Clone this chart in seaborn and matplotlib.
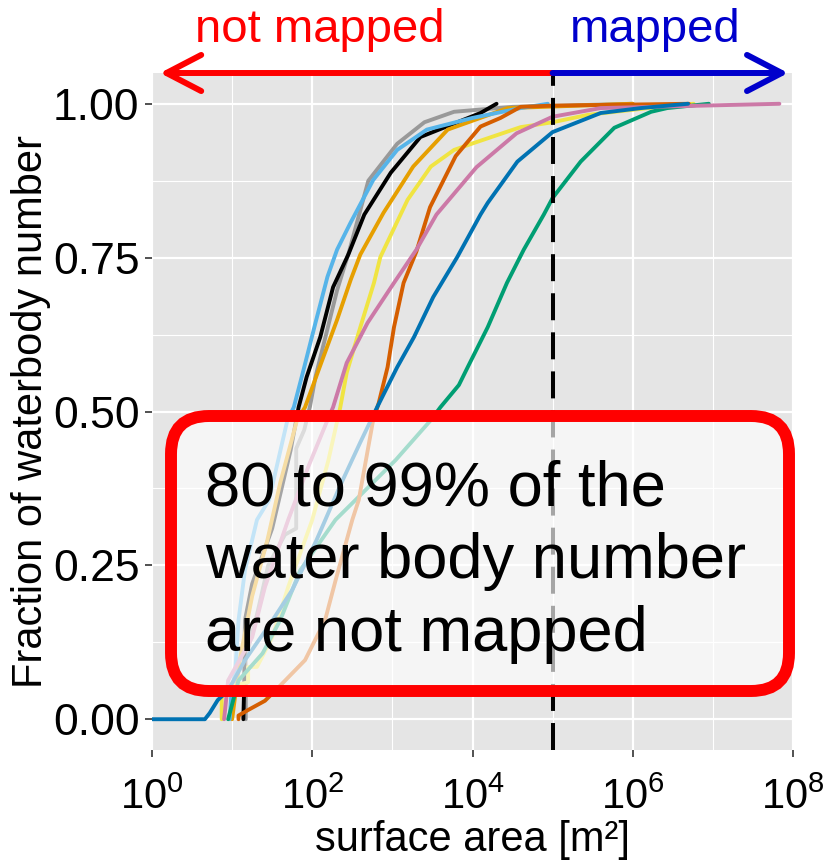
import numpy as np
import pandas as pd
import matplotlib
matplotlib.use("Agg")
import matplotlib.pyplot as plt
import seaborn as sns
from matplotlib.patches import FancyBboxPatch
from matplotlib.transforms import IdentityTransform
from matplotlib.ticker import FixedLocator, FuncFormatter, NullFormatter

# Cumulative distribution of water body surface area per dataset:
# log10(surface area [m²]) and the fraction of water bodies below it.
gray_log_area = [1.17, 1.17, 1.31, 1.45, 1.66, 1.80, 1.80, 1.90, 1.97, 2.04, 2.31, 2.46, 2.70, 3.06, 3.40, 3.77, 4.50, 6.00]
gray_frac = [0.0, 0.10, 0.17, 0.25, 0.30, 0.31, 0.44, 0.47, 0.507, 0.556, 0.697, 0.76, 0.875, 0.935, 0.97, 0.987, 0.995, 1.0]

black_log_area = [1.14, 1.15, 1.16, 1.25, 1.50, 1.73, 1.83, 1.93, 2.10, 2.26, 2.45, 2.65, 2.98, 3.35, 4.10, 4.30]
black_frac = [0.0, 0.05, 0.161, 0.22, 0.31, 0.437, 0.507, 0.556, 0.621, 0.702, 0.755, 0.82, 0.888, 0.946, 0.985, 1.0]

orange_log_area = [1.00, 1.10, 1.25, 1.44, 1.60, 1.81, 1.91, 2.14, 2.31, 2.48, 2.60, 2.89, 3.26, 3.69, 4.44, 6.00]
orange_frac = [0.0, 0.10, 0.20, 0.291, 0.384, 0.486, 0.507, 0.589, 0.649, 0.714, 0.755, 0.823, 0.898, 0.958, 0.993, 1.0]

skyblue_log_area = [0.97, 0.99, 1.04, 1.08, 1.16, 1.31, 1.46, 1.69, 1.77, 1.89, 2.04, 2.19, 2.31, 2.475, 2.76, 3.06, 3.43, 4.00, 4.60, 4.94]
skyblue_frac = [0.0, 0.04, 0.08, 0.161, 0.242, 0.324, 0.356, 0.486, 0.507, 0.567, 0.644, 0.719, 0.763, 0.806, 0.876, 0.925, 0.958, 0.977, 0.993, 1.0]

yellow_log_area = [0.87, 0.87, 1.20, 1.20, 1.31, 1.50, 1.70, 2.00, 2.20, 2.35, 2.43, 2.60, 2.77, 2.85, 3.19, 3.48, 3.77, 4.01, 4.60, 5.00, 5.44, 6.19, 6.76]
yellow_frac = [0.0, 0.05, 0.06, 0.085, 0.085, 0.133, 0.215, 0.324, 0.42, 0.507, 0.563, 0.637, 0.709, 0.751, 0.844, 0.898, 0.925, 0.936, 0.962, 0.97, 0.982, 0.993, 1.0]

green_log_area = [0.95, 1.08, 1.38, 1.60, 1.85, 2.29, 2.60, 3.04, 3.48, 3.60, 3.83, 3.94, 4.19, 4.43, 4.64, 4.89, 5.00, 5.35, 5.77, 6.23, 6.43, 6.95]
green_frac = [0.0, 0.063, 0.107, 0.161, 0.242, 0.324, 0.364, 0.421, 0.486, 0.507, 0.543, 0.572, 0.637, 0.709, 0.763, 0.82, 0.847, 0.906, 0.961, 0.987, 0.993, 1.0]

vermillion_log_area = [1.08, 1.08, 1.20, 1.41, 1.58, 1.91, 2.16, 2.30, 2.50, 2.58, 2.76, 2.83, 2.94, 3.02, 3.14, 3.30, 3.47, 3.79, 4.10, 4.35, 4.60, 5.00, 6.70]
vermillion_frac = [0.0, 0.006, 0.015, 0.03, 0.052, 0.096, 0.161, 0.23, 0.324, 0.356, 0.486, 0.514, 0.572, 0.637, 0.709, 0.76, 0.832, 0.915, 0.963, 0.977, 0.995, 0.997, 1.0]

pink_log_area = [0.90, 0.95, 1.25, 1.41, 1.70, 1.95, 2.19, 2.26, 2.43, 2.69, 3.02, 3.30, 3.55, 4.05, 4.55, 5.00, 5.60, 7.83]
pink_frac = [0.0, 0.063, 0.133, 0.215, 0.324, 0.41, 0.486, 0.507, 0.579, 0.644, 0.709, 0.763, 0.82, 0.897, 0.952, 0.979, 0.993, 1.0]

blue_log_area = [0.0, 0.66, 0.72, 0.82, 0.95, 1.16, 1.50, 1.75, 2.05, 2.35, 2.60, 2.81, 3.06, 3.27, 3.51, 3.81, 4.10, 4.19, 4.56, 5.00, 5.60, 6.10, 6.69]
blue_frac = [0.0, 0.0, 0.01, 0.031, 0.047, 0.096, 0.16, 0.21, 0.29, 0.38, 0.45, 0.507, 0.572, 0.621, 0.686, 0.751, 0.82, 0.839, 0.906, 0.954, 0.985, 0.993, 1.0]

curves = {
    "gray": (gray_log_area, gray_frac, "#999999"),
    "black": (black_log_area, black_frac, "#000000"),
    "orange": (orange_log_area, orange_frac, "#E69F00"),
    "skyblue": (skyblue_log_area, skyblue_frac, "#56B4E9"),
    "yellow": (yellow_log_area, yellow_frac, "#F0E442"),
    "green": (green_log_area, green_frac, "#009E73"),
    "vermillion": (vermillion_log_area, vermillion_frac, "#D55E00"),
    "pink": (pink_log_area, pink_frac, "#CC79A7"),
    "blue": (blue_log_area, blue_frac, "#0072B2"),
}

threshold_area = 1e5  # m², smallest mapped surface area
x_ticks = [1e0, 1e2, 1e4, 1e6, 1e8]
x_minor = [1e1, 1e3, 1e5, 1e7]
y_ticks = [0.0, 0.25, 0.5, 0.75, 1.0]
y_minor = [0.125, 0.375, 0.625, 0.875]

frames = []
for name, (la, fr, _) in curves.items():
    frames.append(pd.DataFrame({"area": 10 ** np.asarray(la, float),
                                "frac": fr, "dataset": name}))
df = pd.concat(frames, ignore_index=True)
palette = {k: v[2] for k, v in curves.items()}

sns.set_theme(style="darkgrid")
plt.rcParams["font.family"] = ["Liberation Sans", "DejaVu Sans"]
plt.rcParams["mathtext.fontset"] = "custom"
plt.rcParams["mathtext.rm"] = "Liberation Sans"
plt.rcParams["mathtext.it"] = "Liberation Sans:italic"
plt.rcParams["mathtext.bf"] = "Liberation Sans:bold"

W, H = 825, 865
fig = plt.figure(figsize=(W / 100, H / 100), dpi=100)
fig.patch.set_facecolor("white")
ax = fig.add_axes([152 / W, 1 - 750 / H, (793 - 152) / W, (750 - 73) / H])
ax.set_facecolor("#e5e5e5")

sns.lineplot(data=df, x="area", y="frac", hue="dataset", hue_order=list(curves),
             palette=palette, estimator=None, sort=False, linewidth=2.8,
             legend=False, ax=ax, zorder=3)

ax.set_xscale("log")
ax.set_xlim(1, 1e8)
ax.set_ylim(-0.05, 1.05)
ax.xaxis.set_major_locator(FixedLocator(x_ticks))
ax.xaxis.set_minor_locator(FixedLocator(x_minor))
ax.yaxis.set_major_locator(FixedLocator(y_ticks))
ax.yaxis.set_minor_locator(FixedLocator(y_minor))
ax.xaxis.set_major_formatter(FuncFormatter(lambda v, p: r"$\mathdefault{10^{%d}}$" % round(np.log10(v))))
ax.xaxis.set_minor_formatter(NullFormatter())
ax.yaxis.set_major_formatter(FuncFormatter(lambda v, p: f"{v:.2f}"))
ax.yaxis.set_minor_formatter(NullFormatter())
ax.grid(which="major", color="white", linewidth=1.6)
ax.grid(which="minor", color="white", linewidth=0.8)
ax.tick_params(which="minor", length=0, bottom=False, left=False)
ax.tick_params(which="major", bottom=True, left=True, length=5, width=1.2,
               color="#333333", labelcolor="black")
ax.tick_params(axis="y", which="major", labelsize=32, pad=4)
ax.tick_params(axis="x", which="major", labelsize=30, pad=15)
for s in ax.spines.values():
    s.set_visible(False)

ax.set_xlabel("surface area [m²]", fontsize=30, labelpad=1, color="black")
ax.set_ylabel("Fraction of waterbody number", fontsize=30, labelpad=1, color="black")

# mapping threshold
ax.axvline(threshold_area, color="black", linewidth=2.9, dashes=(6.7, 3.0), zorder=4)

# direction arrows along the top of the panel
arrow_kw = dict(lw=4.3, shrinkA=0, shrinkB=0, mutation_scale=20,
                capstyle="round", joinstyle="round")
ax.annotate("", xy=(10 ** 0.1, 1.05), xytext=(threshold_area, 1.05),
            arrowprops=dict(arrowstyle="->,head_length=1.25,head_width=0.65",
                            color="#ff0000", **arrow_kw),
            annotation_clip=False, zorder=6)
ax.annotate("", xy=(10 ** 7.94, 1.05), xytext=(threshold_area, 1.05),
            arrowprops=dict(arrowstyle="->,head_length=1.25,head_width=0.65",
                            color="#0000cc", **arrow_kw),
            annotation_clip=False, zorder=6)
fig.text(320 / W, 1 - 30 / H, "not mapped", color="#ff0000", fontsize=34,
         ha="center", va="center")
fig.text(655 / W, 1 - 30 / H, "mapped", color="#0000cc", fontsize=34,
         ha="center", va="center")

# highlighted message box
box = FancyBboxPatch((171, H - 691), 789 - 171, 691 - 416,
                     boxstyle="round,pad=0,rounding_size=38",
                     transform=IdentityTransform(), facecolor=(1, 1, 1, 0.65),
                     edgecolor="#ff0000", linewidth=8.6, zorder=5)
fig.add_artist(box)
for line, base in zip(["80 to 99% of the", "water body number", "are not mapped"],
                      [505, 578, 651]):
    fig.text(205 / W, 1 - base / H, line, fontsize=45.5, color="black",
             ha="left", va="baseline", zorder=6)

fig.savefig("out.png", dpi=100)
